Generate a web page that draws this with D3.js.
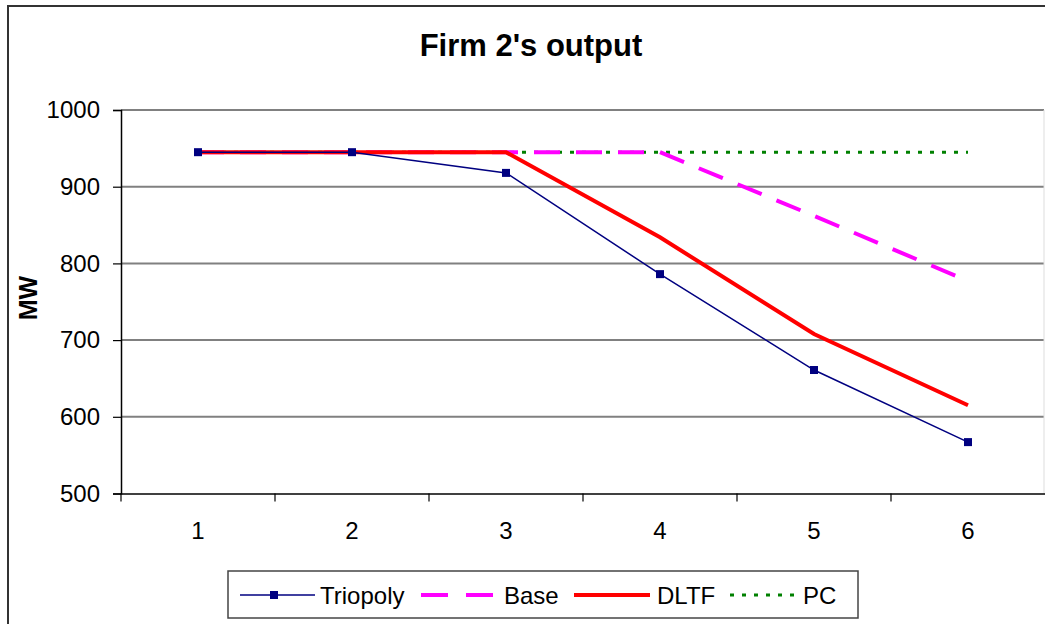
<!DOCTYPE html>
<html>
<head>
<meta charset="utf-8">
<script src="https://cdnjs.cloudflare.com/ajax/libs/d3/7.8.5/d3.min.js"></script>
<style>
body{margin:0;background:#fff;overflow:hidden;}
text{font-family:"Liberation Sans",Arial,sans-serif;}
</style>
</head>
<body>
<script>
// data
let categories = [1,2,3,4,5,6];
let triopoly = [945,945,918,786,661,567];
let base = [945,945,945,945,862,777];
let dltf = [945,945,945,834,708,615];
let pc = [945,945,945,945,945,945];
let yTicks = [500,600,700,800,900,1000];

let width = 1045, height = 624;
let svg = d3.select('body').append('svg').attr('width',width).attr('height',height).style('display','block');

// outer border (chart is cropped on the right and bottom)
svg.append('rect').attr('x',8).attr('y',6).attr('width',1046).attr('height',640)
  .attr('fill','none').attr('stroke','#333').attr('stroke-width',2);

let plotLeft = 121, plotTop = 110, plotBottom = 493.5, bandW = 154;
let x = d3.scaleBand().domain(categories).range([plotLeft,plotLeft+bandW*categories.length]);
let y = d3.scaleLinear().domain([500,1000]).range([plotBottom,plotTop]);
let cx = d => x(d)+x.bandwidth()/2;

// gridlines
svg.append('g').selectAll('line').data(yTicks.slice(1)).join('line')
  .attr('x1',plotLeft).attr('x2',1044).attr('y1',d=>y(d)).attr('y2',d=>y(d))
  .attr('stroke','#808080').attr('stroke-width',2);
svg.append('line').attr('x1',1044).attr('x2',1044).attr('y1',plotTop).attr('y2',plotBottom)
  .attr('stroke','#ddd').attr('stroke-width',1);

// y axis
let yAxis = svg.append('g').attr('transform',`translate(${plotLeft},0)`)
  .call(d3.axisLeft(y).tickValues(yTicks).tickFormat(d3.format('d')).tickSize(8).tickPadding(13));
yAxis.select('.domain').attr('stroke','#000').attr('stroke-width',1.5);
yAxis.selectAll('.tick line').attr('stroke','#000').attr('stroke-width',1.2);
yAxis.selectAll('text').style('font-size','24px').attr('fill','#000');

// x axis
let xAxis = svg.append('g').attr('transform',`translate(0,${plotBottom})`)
  .call(d3.axisBottom(x).tickSize(0).tickPadding(28));
xAxis.select('.domain').attr('stroke','#000').attr('stroke-width',1.5);
xAxis.selectAll('text').style('font-size','24px').attr('fill','#000').attr('dy',null).attr('y',45.5);
svg.append('g').selectAll('line').data(categories).join('line')
  .attr('x1',d=>x(d)).attr('x2',d=>x(d)).attr('y1',plotBottom).attr('y2',plotBottom+8)
  .attr('stroke','#000').attr('stroke-width',1.2);

// title and axis label
svg.append('text').attr('x',531).attr('y',56).attr('text-anchor','middle')
  .style('font-size','31px').style('font-weight','bold').text("Firm 2's output");
svg.append('text').attr('transform','translate(37,298) rotate(-90)').attr('text-anchor','middle')
  .style('font-size','25px').style('font-weight','bold').text('MW');

// lines
let line = d3.line().x((d,i)=>cx(categories[i])).y(d=>y(d));
svg.append('path').datum(pc).attr('d',line).attr('fill','none')
  .attr('stroke','#008000').attr('stroke-width',3).attr('stroke-dasharray','4,8');
svg.append('path').datum(base).attr('d',line).attr('fill','none')
  .attr('stroke','#ff00ff').attr('stroke-width',4).attr('stroke-dasharray','26,16');
svg.append('path').datum(dltf).attr('d',line).attr('fill','none')
  .attr('stroke','#ff0000').attr('stroke-width',4);
svg.append('path').datum(triopoly).attr('d',line).attr('fill','none')
  .attr('stroke','#000080').attr('stroke-width',1.5);
svg.append('g').selectAll('rect').data(triopoly).join('rect')
  .attr('x',(d,i)=>cx(categories[i])-4).attr('y',d=>y(d)-4).attr('width',8).attr('height',8)
  .attr('fill','#000080');

// legend
let lg = svg.append('g');
lg.append('rect').attr('x',228).attr('y',571).attr('width',630).attr('height',47)
  .attr('fill','#fff').attr('stroke','#444').attr('stroke-width',1.5);
let ly = 595;
lg.append('line').attr('x1',240).attr('x2',315).attr('y1',ly).attr('y2',ly).attr('stroke','#000080').attr('stroke-width',1.5);
lg.append('rect').attr('x',270).attr('y',ly-4).attr('width',8).attr('height',8).attr('fill','#000080');
lg.append('line').attr('x1',421).attr('x2',494).attr('y1',ly).attr('y2',ly).attr('stroke','#ff00ff').attr('stroke-width',4).attr('stroke-dasharray','27,18');
lg.append('line').attr('x1',574).attr('x2',650).attr('y1',ly).attr('y2',ly).attr('stroke','#ff0000').attr('stroke-width',4);
lg.append('line').attr('x1',730).attr('x2',801).attr('y1',ly).attr('y2',ly).attr('stroke','#008000').attr('stroke-width',3).attr('stroke-dasharray','4,8');
let names = ['Triopoly','Base','DLTF','PC'], nx = [320,504,657,803];
lg.selectAll('text.n').data(names).join('text').attr('class','n')
  .attr('x',(d,i)=>nx[i]).attr('y',ly+9).style('font-size','24px').text(d=>d);
</script>
</body>
</html>
